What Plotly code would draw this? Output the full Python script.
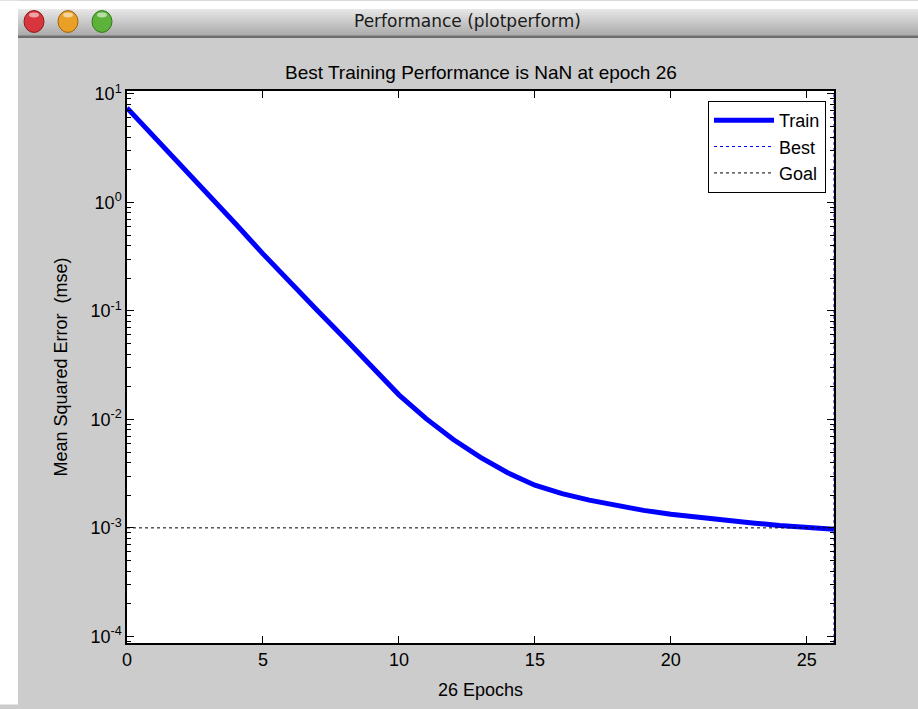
import plotly.graph_objects as go
import numpy as np

# ---------------- data ----------------
epochs = list(range(0, 27))
train_mse = [7.41, 4.03, 2.18, 1.16, 0.631, 0.335, 0.182, 0.1008, 0.0559, 0.03034,
             0.01683, 0.01015, 0.00652, 0.00446, 0.00322, 0.00247, 0.00207, 0.00180,
             0.00161, 0.00145, 0.001335, 0.001248, 0.001176, 0.001111, 0.001052,
             0.001004, 0.00097]
goal_value = 1e-3
best_epoch = 26
x_ticks = [0, 5, 10, 15, 20, 25]
y_tick_exps = [-4, -3, -2, -1, 0, 1]
y_range_log = [-4.061, 1.026]
x_range = [0, 26]

title_text = "Best Training Performance is NaN at epoch 26"
window_title = "Performance (plotperform)"
x_title = "26 Epochs"
y_title = "Mean Squared Error  (mse)"

# ---------------- layout geometry ----------------
W, H = 918, 709
L, R, T, B = 127, 834, 91, 647   # plot area in pixels
PW, PH = R - L, B - T


def px(xp):
    return (xp - L) / PW


def py(yp):
    return (B - yp) / PH


FONT = "Liberation Sans, Arial, Helvetica, sans-serif"
GRAY = "#cccccc"

fig = go.Figure()

fig.add_trace(go.Scatter(
    x=epochs, y=train_mse, mode="lines", name="Train",
    line=dict(color="#0000ff", width=5), hoverinfo="skip"))

ylo, yhi = 10 ** y_range_log[0], 10 ** y_range_log[1]
fig.add_trace(go.Scatter(
    x=[best_epoch, best_epoch], y=[ylo, yhi], mode="lines", name="Best",
    line=dict(color="#0000ff", width=1, dash="dot"), hoverinfo="skip"))

fig.add_trace(go.Scatter(
    x=[x_range[0], x_range[1]], y=[goal_value, goal_value], mode="lines", name="Goal",
    line=dict(color="#000000", width=1, dash="dot"), hoverinfo="skip"))

shapes = []
# white strip on left and top
shapes.append(dict(type="rect", xref="paper", yref="paper", x0=px(0), x1=px(18),
                   y0=py(H), y1=py(0), fillcolor="white", line=dict(width=0), layer="above"))
shapes.append(dict(type="rect", xref="paper", yref="paper", x0=px(0), x1=px(W),
                   y0=py(9), y1=py(0), fillcolor="white", line=dict(width=0), layer="above"))
# title bar gradient
n = 13
top_c = np.array([0xe6, 0xe6, 0xe6])
bot_c = np.array([0xab, 0xab, 0xab])
y_start, y_end = 9, 35
for i in range(n):
    c = top_c + (bot_c - top_c) * i / (n - 1)
    col = "rgb(%d,%d,%d)" % tuple(int(v) for v in c)
    ya = y_start + (y_end - y_start) * i / n
    yb = y_start + (y_end - y_start) * (i + 1) / n
    shapes.append(dict(type="rect", xref="paper", yref="paper", x0=px(18), x1=px(W),
                       y0=py(yb + 0.3), y1=py(ya), fillcolor=col, line=dict(width=0),
                       layer="above"))
shapes.append(dict(type="rect", xref="paper", yref="paper", x0=px(18), x1=px(W),
                   y0=py(37.5), y1=py(35), fillcolor="#6e6e6e", line=dict(width=0),
                   layer="above"))
# traffic lights
for cx, col, edge in [(34, "#d8363c", "#8a1a1e"), (68, "#e9a024", "#9a6410"),
                      (102, "#5db33a", "#2f7a1c")]:
    shapes.append(dict(type="circle", xref="paper", yref="paper",
                       x0=px(cx - 10), x1=px(cx + 10), y0=py(21 + 11), y1=py(21 - 11),
                       fillcolor=col, line=dict(color=edge, width=1), layer="above"))
    shapes.append(dict(type="circle", xref="paper", yref="paper",
                       x0=px(cx - 5), x1=px(cx + 5), y0=py(17), y1=py(12),
                       fillcolor="rgba(255,255,255,0.55)", line=dict(width=0), layer="above"))

annotations = [
    dict(text=window_title, xref="paper", yref="paper", x=px(467), y=py(20),
         xanchor="center", yanchor="middle", showarrow=False,
         font=dict(family="DejaVu Sans, sans-serif", size=17, color="#1a1a1a")),
    dict(text=title_text, xref="paper", yref="paper", x=px(481), y=py(72),
         xanchor="center", yanchor="middle", showarrow=False,
         font=dict(family=FONT, size=19, color="#000000")),
]

fig.update_layout(
    width=W, height=H,
    margin=dict(l=L, r=W - R, t=T, b=H - B, pad=0),
    paper_bgcolor=GRAY, plot_bgcolor="white",
    font=dict(family=FONT, size=18, color="#000000"),
    shapes=shapes, annotations=annotations,
    showlegend=True,
    legend=dict(x=px(826), y=py(101), xanchor="right", yanchor="top",
                bgcolor="white", bordercolor="black", borderwidth=1,
                font=dict(family=FONT, size=18, color="#000000"),
                tracegroupgap=0, itemwidth=60),
    hovermode=False,
)

fig.update_xaxes(
    range=x_range, tickmode="array", tickvals=x_ticks, ticktext=[str(v) for v in x_ticks],
    ticks="inside", ticklen=7, tickwidth=1, tickcolor="black",
    showline=True, linecolor="black", linewidth=1.5, mirror="ticks",
    showgrid=False, zeroline=False,
    title=dict(text=x_title, font=dict(family=FONT, size=18), standoff=14),
    tickfont=dict(family=FONT, size=18),
)

fig.update_yaxes(
    type="log", range=y_range_log,
    tickmode="array", tickvals=[10.0 ** e for e in y_tick_exps],
    ticktext=["10<sup>%d</sup>" % e for e in y_tick_exps],
    ticks="inside", ticklen=7, tickwidth=1, tickcolor="black",
    minor=dict(ticks="inside", ticklen=4, tickwidth=1, tickcolor="black", dtick="D1",
               showgrid=False),
    showline=True, linecolor="black", linewidth=1.5, mirror="ticks",
    showgrid=False, zeroline=False,
    title=dict(text=y_title, font=dict(family=FONT, size=18), standoff=18),
    tickfont=dict(family=FONT, size=18),
)

fig.write_html("out.html")
